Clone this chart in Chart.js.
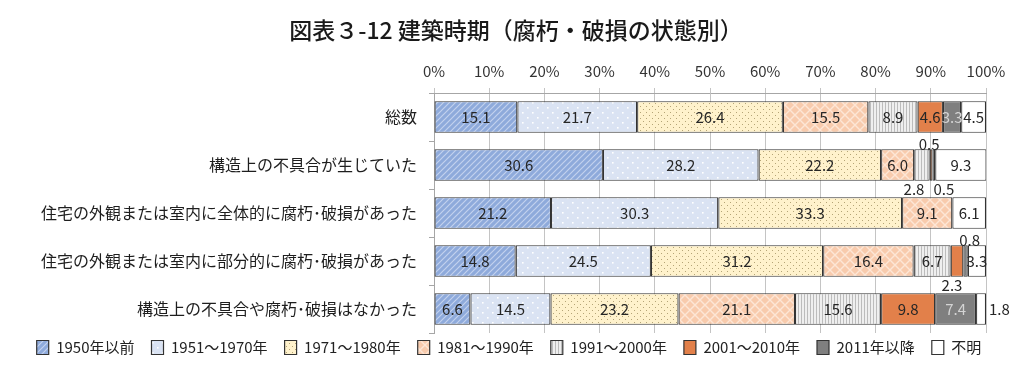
<!DOCTYPE html>
<html><head><meta charset="utf-8">
<script src="https://cdn.jsdelivr.net/npm/chart.js@4.4.0/dist/chart.umd.min.js"></script>
<style>html,body{margin:0;padding:0;background:#fff;}#wrap{width:1024px;height:384px;position:relative;}</style>
</head><body><div id="wrap"><canvas id="c" width="1024" height="384"></canvas></div>
<script>
const titleText = '図表３-12 建築時期（腐朽・破損の状態別）';
const categories = ['総数','構造上の不具合が生じていた','住宅の外観または室内に全体的に腐朽･破損があった','住宅の外観または室内に部分的に腐朽･破損があった','構造上の不具合や腐朽･破損はなかった'];
const seriesNames = ['1950年以前','1951～1970年','1971～1980年','1981～1990年','1991～2000年','2001～2010年','2011年以降','不明'];
const s1950 = [15.1, 30.6, 21.2, 14.8, 6.6];
const s1951 = [21.7, 28.2, 30.3, 24.5, 14.5];
const s1971 = [26.4, 22.2, 33.3, 31.2, 23.2];
const s1981 = [15.5, 6.0, 9.1, 16.4, 21.1];
const s1991 = [8.9, 2.8, 0, 6.7, 15.6];
const s2001 = [4.6, 0.5, 0, 2.3, 9.8];
const s2011 = [3.3, 0.5, 0, 0.8, 7.4];
const sUnknown = [4.5, 9.3, 6.1, 3.3, 1.8];
const seriesValues = [s1950, s1951, s1971, s1981, s1991, s2001, s2011, sUnknown];
const xTickStep = 10;

const FAM = "'Noto Sans CJK JP', 'Noto Sans', sans-serif";
const canvas = document.getElementById('c');
const mainCtx = canvas.getContext('2d');
function makePattern(bg, w, h, draw){
  const c = document.createElement('canvas'); c.width = w; c.height = h;
  const g = c.getContext('2d'); g.fillStyle = bg; g.fillRect(0,0,w,h);
  if (draw) draw(g, w, h);
  return mainCtx.createPattern(c, 'repeat');
}
const fills = [
  makePattern('#8eaadb', 6, 6, (g)=>{ g.strokeStyle='#c3d2ee'; g.lineWidth=1.2; g.beginPath();
    g.moveTo(0,6); g.lineTo(6,0); g.moveTo(-3,3); g.lineTo(3,-3); g.moveTo(3,9); g.lineTo(9,3); g.stroke(); }),
  makePattern('#dae3f3', 10, 10, (g)=>{ g.fillStyle='#ffffff'; g.fillRect(2,2,1.6,1.6); g.fillRect(7,7,1.6,1.6); }),
  makePattern('#fff2cc', 6, 6, (g)=>{ g.fillStyle='#b5a577'; g.fillRect(1,1,1,1); g.fillRect(4,4,1,1); }),
  makePattern('#f8cbad', 10, 10, (g)=>{ g.strokeStyle='#fde6d6'; g.lineWidth=1.4; g.beginPath();
    g.moveTo(0,0); g.lineTo(10,10); g.moveTo(10,0); g.lineTo(0,10); g.stroke(); }),
  makePattern('#efefef', 3, 3, (g)=>{ g.fillStyle='#bcbcbc'; g.fillRect(0,0,1,3); }),
  '#e2804a',
  '#7f7f7f',
  '#ffffff'
];

const titlePlugin = {
  id: 'ttl',
  afterDraw(chart){
    const ctx = chart.ctx; ctx.save();
    ctx.font = '500 23px ' + FAM; ctx.fillStyle = '#1a1a1a';
    ctx.textAlign = 'center'; ctx.textBaseline = 'middle';
    ctx.fillText(titleText, 516, 30); ctx.restore();
  }
};
const legendShift = {
  id: 'legendShift',
  afterLayout(chart, args, opts){
    const L = chart.legend; if (!L) return;
    L.top += opts.dy; L.bottom += opts.dy;
    L.left += opts.dx; L.right += opts.dx;
  }
};
const labelPlugin = {
  id: 'vlabels',
  afterDatasetsDraw(chart, args, opts){
    const ctx = chart.ctx; ctx.save();
    ctx.font = '15px ' + FAM; ctx.textBaseline = 'middle';
    chart.data.datasets.forEach((ds, di) => {
      const meta = chart.getDatasetMeta(di);
      meta.data.forEach((bar, i) => {
        const v = ds.data[i];
        if (!v) return;
        const p = bar.getProps(['x','y','base','height'], true);
        const sp = opts.special.find(s => s.row === i && s.ds === di);
        let x = (p.x + p.base) / 2, y = p.y, align = 'center';
        let color = di === 6 ? '#d4d4d4' : '#262626';
        if (sp) {
          color = '#262626';
          if (sp.pos === 'above') y = p.y - p.height/2 - 5;
          else if (sp.pos === 'below') y = p.y + p.height/2 + 8;
          else if (sp.pos === 'right') { x = Math.min(Math.max(p.x, p.base), chart.chartArea.right) + 3; align = 'left'; }
          x += sp.dx || 0;
        }
        ctx.textAlign = align; ctx.fillStyle = color;
        ctx.fillText(v.toFixed(1), x, y);
      });
    });
    ctx.restore();
  }
};

new Chart(canvas, {
  type: 'bar',
  data: {
    labels: categories,
    datasets: seriesNames.map((n, i) => ({
      label: n, data: seriesValues[i], backgroundColor: fills[i],
      borderColor: '#333333', borderWidth: 1.2, borderSkipped: false,
      barPercentage: 0.66, categoryPercentage: 1.0
    }))
  },
  options: {
    indexAxis: 'y', responsive: false, animation: false, devicePixelRatio: 1,
    layout: { padding: { top: 53, right: 38, bottom: 9, left: 0 } },
    scales: {
      x: {
        position: 'top', stacked: true, min: 0, max: 100,
        ticks: { stepSize: xTickStep, callback: v => v + '%', color: '#333', font: { size: 15, family: FAM }, padding: 8, maxRotation: 0 },
        grid: { color: '#c4c4c4', tickLength: 5, lineWidth: 1 },
        border: { color: '#a6a6a6' },
        afterFit(s){ s.height = 40; }
      },
      y: {
        stacked: true,
        ticks: { color: '#1e1e1e', font: { size: 16, family: FAM }, padding: 12 },
        grid: { offset: true, drawOnChartArea: false, tickLength: 5, color: '#a6a6a6' },
        border: { color: '#a6a6a6' },
        afterFit(s){ s.width = 434; }
      }
    },
    plugins: {
      legend: { position: 'bottom', labels: { boxWidth: 12, boxHeight: 14, padding: 17, color: '#222', font: { size: 15, family: FAM } } },
      tooltip: { enabled: false },
      legendShift: { dy: -10, dx: 16 },
      vlabels: { special: [
        { row: 1, ds: 4, pos: 'below', dx: -8 },
        { row: 1, ds: 5, pos: 'above', dx: -2 },
        { row: 1, ds: 6, pos: 'below', dx: 10 },
        { row: 3, ds: 5, pos: 'below', dx: -5 },
        { row: 3, ds: 6, pos: 'above', dx: 4 },
        { row: 4, ds: 7, pos: 'right', dx: 0 }
      ] }
    }
  },
  plugins: [titlePlugin, labelPlugin, legendShift]
});
</script></body></html>
